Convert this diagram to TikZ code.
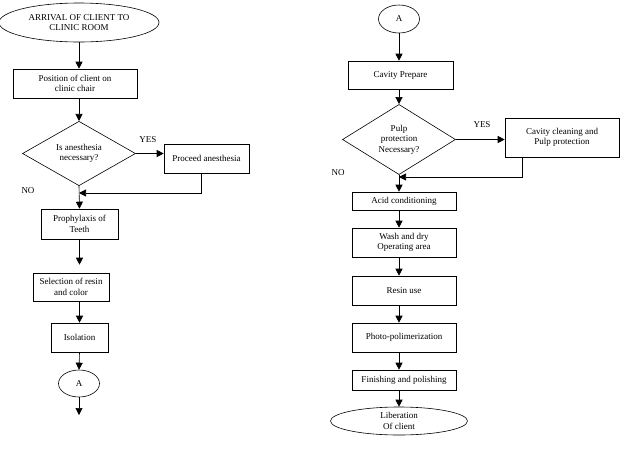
\documentclass[tikz,border=0pt]{standalone}
\usepackage{fontspec}
\setmainfont{Liberation Serif}
\usetikzlibrary{arrows.meta,shapes.geometric}
\tikzset{
  chart/.style={font=\fontsize{9}{10.5}\selectfont,line width=0.6pt},
  procbox/.style={draw,rectangle,align=center,inner sep=1pt},
  decide/.style={draw,diamond,align=center,inner sep=0pt,minimum width=113pt},
  term/.style={draw,ellipse,align=center,inner sep=0pt},
  flow/.style={-{Triangle[length=7pt,width=7pt]}},
}
\begin{document}
\begin{tikzpicture}[x=1pt,y=-1pt,chart]
  \useasboundingbox (0,0) rectangle (622,456);
  % left column
  \node[term,minimum width=160pt,minimum height=39pt] (arrival) at (79,22.5) {ARRIVAL OF CLIENT TO\\CLINIC ROOM};
  \node[procbox,minimum width=124pt,minimum height=29pt] (position) at (75,83.5) {Position of client on\\clinic chair};
  \node[decide,minimum height=57pt] (anest) at (79,153.5) {Is anesthesia\\necessary?};
  \node[procbox,minimum width=85pt,minimum height=29pt] (proceed) at (206.5,158.5) {Proceed anesthesia};
  \node[procbox,minimum width=77pt,minimum height=30pt] (prophy) at (79.5,224) {Prophylaxis of\\Teeth};
  \node[procbox,minimum width=76pt,minimum height=28pt] (select) at (71,287) {Selection of resin\\and color};
  \node[procbox,minimum width=57pt,minimum height=29pt] (isol) at (79.5,337.5) {Isolation};
  \node[term,minimum width=41pt,minimum height=27pt] (aleft) at (79,383.5) {A};
  \coordinate (join1) at (79,193);
  \coordinate (leftend) at (79,415);
  \node (yes1) at (148,140) {YES};
  \node (no1) at (28,191) {NO};

  \draw[flow] (arrival) -- (arrival.south |- position.north);
  \draw[flow] (arrival.south |- position.south) -- (anest.north);
  \draw[flow] (anest.east) -- (anest.east -| proceed.west);
  \draw[flow] ([xshift=-5.5pt]proceed.south) |- (join1);
  \draw[flow] (anest.south) -- (prophy.north);
  \draw[flow,shorten >=8pt] (prophy.south) -- (prophy.south |- select.north);
  \draw[flow] (prophy.south |- select.south) -- (isol.north);
  \draw[flow] (isol.south) -- (aleft.north);
  \draw[flow] (aleft.south) -- (leftend);

  % right column
  \node[term,minimum width=41pt,minimum height=28pt] (aright) at (399,19) {A};
  \node[procbox,minimum width=105pt,minimum height=28pt] (cavity) at (400.5,75) {Cavity Prepare};
  \node[decide,minimum height=65pt] (pulp) at (399,139.5) {Pulp\\protection\\Necessary?};
  \node[procbox,minimum width=114pt,minimum height=39pt] (clean) at (562,137.5) {Cavity cleaning and\\Pulp protection};
  \node[procbox,minimum width=104pt,minimum height=18pt] (acid) at (404,201) {Acid conditioning};
  \node[procbox,minimum width=104pt,minimum height=29pt] (wash) at (404,242.5) {Wash and dry\\Operating area};
  \node[procbox,minimum width=104pt,minimum height=29pt] (resin) at (404,290.5) {Resin use};
  \node[procbox,minimum width=104pt,minimum height=29pt] (photo) at (404,337.5) {Photo-polimerization};
  \node[procbox,minimum width=104pt,minimum height=20pt] (finish) at (404,380) {Finishing and polishing};
  \node[term,minimum width=137pt,minimum height=28pt] (liber) at (399,421) {Liberation\\Of client};
  \coordinate (join2) at (399,177);
  \node (yes2) at (482,125) {YES};
  \node (no2) at (338,173) {NO};

  \draw[flow] (aright) -- (aright.south |- cavity.north);
  \draw[flow] (aright.south |- cavity.south) -- (pulp.north);
  \draw[flow] (pulp.east) -- (pulp.east -| clean.west);
  \draw[flow] ([xshift=-40pt]clean.south) |- (join2);
  \draw[flow] (pulp.south) -- (pulp.south |- acid.north);
  \draw[flow] (pulp.south |- acid.south) -- (pulp.south |- wash.north);
  \draw[flow] (pulp.south |- wash.south) -- (pulp.south |- resin.north);
  \draw[flow] (pulp.south |- resin.south) -- (pulp.south |- photo.north);
  \draw[flow] (pulp.south |- photo.south) -- (pulp.south |- finish.north);
  \draw[flow] (pulp.south |- finish.south) -- (liber.north);
\end{tikzpicture}
\end{document}
